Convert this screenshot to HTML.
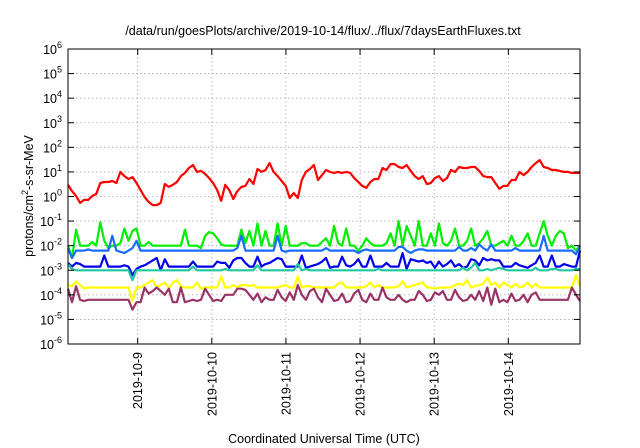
<!DOCTYPE html>
<html><head><meta charset="utf-8"><style>
html,body{margin:0;padding:0;background:#fff;}
svg{display:block;font-family:"Liberation Sans",sans-serif;}
</style></head><body>
<svg id="chart" width="640" height="448" viewBox="0 0 640 448" xmlns="http://www.w3.org/2000/svg">
<rect x="0" y="0" width="640" height="448" fill="#fff"/>
<text x="323" y="35" font-size="12.5" text-anchor="middle" fill="#000">/data/run/goesPlots/archive/2019-10-14/flux/../flux/7daysEarthFluxes.txt</text>
<g id="grid"></g>
<g id="series"></g>
<rect x="68" y="49" width="512" height="295" fill="none" stroke="#000" stroke-width="1"/>
<g id="yticks"></g>
<g id="xticks"></g>
<text transform="translate(33,196) rotate(-90)" font-size="12.5" text-anchor="middle">protons/cm<tspan dy="-5" font-size="9">2</tspan><tspan dy="5">-s-sr-MeV</tspan></text>
<text x="324" y="443" font-size="12.5" text-anchor="middle">Coordinated Universal Time (UTC)</text>
</svg>
<script>
const yTickExps = [-6,-5,-4,-3,-2,-1,0,1,2,3,4,5,6];
const xTickDays = [9,10,11,12,13,14];
const xTickLabels = ["2019-10-9","2019-10-10","2019-10-11","2019-10-12","2019-10-13","2019-10-14"];
const seriesColors = ["#ff0000","#00ee00","#1a6cff","#0000ee","#1fc8a0","#ffff00","#993366"];
const seriesNames = ["flux-red","flux-green","flux-lightblue","flux-blue","flux-teal","flux-yellow","flux-purple"];
const redLog = [0.47,0.22,0.02,-0.26,-0.14,-0.14,0.02,0.1,0.55,0.59,0.59,0.63,0.55,1.0,0.83,0.71,0.79,0.55,0.26,-0.02,-0.22,-0.35,-0.35,-0.26,0.51,0.39,0.47,0.59,0.83,0.96,1.16,1.28,1.0,1.04,0.92,0.75,0.55,0.26,-0.18,0.47,0.26,-0.1,0.22,0.39,0.43,0.71,0.51,1.12,1.0,1.08,1.36,1.0,0.83,0.63,0.43,-0.06,0.14,-0.06,0.67,1.0,1.12,1.28,0.67,0.87,1.08,1.0,0.96,1.0,0.96,1.0,0.96,0.75,0.59,0.43,0.35,0.59,0.71,0.71,1.16,1.08,1.32,1.32,1.2,1.16,1.28,1.04,0.83,0.71,0.83,0.51,0.55,0.75,0.83,0.63,0.75,1.08,1.0,1.2,1.16,1.16,1.2,1.2,1.04,0.83,0.79,0.79,0.55,0.31,0.43,0.43,0.67,0.67,1.0,0.87,1.0,1.2,1.36,1.48,1.2,1.16,1.08,1.08,1.04,1.0,1.0,0.96,0.96,0.96];
const greenLog = [-2.0,-2.5,-1.35,-2.0,-2.0,-2.0,-1.85,-2.0,-1.05,-1.8,-2.1,-2.0,-2.0,-1.9,-1.3,-1.8,-1.4,-1.3,-2.0,-2.0,-1.85,-2.0,-2.0,-2.0,-2.0,-2.0,-2.0,-2.0,-2.0,-1.35,-2.0,-2.0,-2.0,-2.1,-1.6,-1.45,-1.5,-1.7,-1.95,-2.0,-2.0,-2.0,-2.0,-1.35,-1.9,-1.4,-2.0,-1.1,-2.0,-1.4,-2.0,-2.0,-1.1,-2.0,-1.2,-2.0,-2.0,-2.0,-1.9,-1.9,-2.0,-2.0,-2.0,-1.85,-1.7,-2.0,-1.2,-1.9,-2.0,-1.3,-2.0,-2.0,-2.2,-2.0,-1.7,-1.9,-2.0,-2.0,-2.0,-1.9,-1.5,-2.0,-1.0,-2.0,-1.2,-1.6,-2.0,-1.0,-2.0,-2.0,-1.5,-2.0,-1.1,-1.9,-2.0,-1.8,-1.3,-2.0,-2.0,-1.8,-1.3,-2.0,-1.9,-1.7,-1.4,-2.0,-2.0,-1.9,-1.8,-2.0,-1.6,-2.0,-2.0,-1.8,-1.5,-2.0,-2.0,-1.5,-1.0,-1.6,-2.0,-1.6,-1.4,-1.5,-2.1,-2.0,-2.2,-2.0];
const lightBlueLog = [-2.1,-2.5,-2.2,-2.2,-2.2,-2.15,-2.2,-2.2,-2.2,-2.2,-2.2,-1.6,-2.2,-2.25,-2.3,-2.2,-2.1,-1.8,-2.2,-2.2,-2.2,-2.2,-2.2,-2.2,-2.2,-2.2,-2.2,-2.2,-2.2,-2.2,-2.2,-2.2,-2.2,-2.2,-2.2,-2.2,-2.2,-2.2,-2.2,-2.2,-2.2,-2.2,-2.1,-1.6,-2.2,-2.2,-2.2,-2.2,-2.2,-2.2,-2.2,-2.2,-1.6,-2.2,-2.25,-2.2,-2.2,-2.2,-2.2,-2.2,-2.2,-2.2,-2.2,-2.2,-2.1,-2.2,-2.2,-2.2,-2.2,-2.2,-2.2,-2.2,-2.3,-2.2,-2.15,-2.2,-2.2,-2.2,-2.2,-2.2,-2.2,-2.2,-2.05,-2.05,-2.2,-2.3,-2.2,-2.15,-2.15,-2.2,-2.2,-2.2,-2.2,-2.2,-2.2,-2.2,-2.2,-2.05,-2.2,-2.2,-2.1,-2.2,-1.95,-2.1,-2.2,-1.95,-2.2,-2.2,-2.2,-2.2,-2.2,-2.1,-2.2,-2.2,-2.2,-2.2,-2.2,-2.2,-1.6,-2.2,-2.2,-2.2,-2.2,-2.2,-2.2,-2.2,-2.35,-2.0];
const blueLog = [-2.7,-2.85,-2.7,-2.75,-2.85,-2.85,-2.85,-2.85,-2.85,-2.4,-2.85,-2.85,-2.85,-2.85,-2.8,-2.85,-3.2,-2.95,-2.85,-2.8,-2.7,-2.6,-2.5,-3.0,-2.55,-2.85,-2.85,-2.85,-2.85,-2.85,-2.85,-2.65,-2.85,-2.85,-2.85,-2.85,-2.85,-2.65,-2.7,-2.7,-2.9,-2.6,-2.5,-2.5,-2.7,-2.85,-2.85,-2.45,-2.85,-2.75,-2.7,-2.6,-2.5,-2.55,-2.85,-2.85,-2.85,-2.85,-2.4,-2.9,-2.85,-2.8,-2.75,-2.65,-2.5,-2.9,-2.85,-2.85,-2.45,-2.8,-2.85,-2.75,-2.55,-2.85,-2.85,-2.4,-2.85,-2.85,-2.85,-2.7,-2.85,-2.85,-2.85,-2.3,-2.95,-2.55,-2.6,-2.65,-2.6,-2.7,-2.65,-2.9,-2.65,-2.85,-2.75,-2.6,-2.85,-2.75,-2.9,-2.85,-2.55,-2.6,-2.8,-2.5,-2.6,-2.55,-2.6,-2.6,-2.85,-2.85,-2.85,-2.7,-2.8,-2.85,-2.9,-2.8,-2.7,-2.4,-2.85,-2.85,-2.4,-2.85,-2.85,-2.75,-2.8,-2.85,-2.85,-2.2];
const tealLog = [-2.75,-2.95,-3.0,-3.0,-3.0,-3.0,-3.0,-3.0,-3.0,-3.0,-3.0,-3.0,-3.0,-3.0,-3.0,-3.0,-3.4,-3.0,-3.0,-3.0,-3.0,-3.0,-3.0,-3.0,-3.0,-3.0,-3.0,-3.0,-3.0,-3.0,-3.0,-2.85,-3.0,-3.0,-3.0,-3.0,-3.0,-3.0,-3.0,-2.95,-3.0,-3.0,-3.0,-3.0,-3.0,-3.0,-3.0,-2.8,-3.0,-3.0,-3.0,-3.0,-3.0,-3.0,-3.0,-3.0,-3.0,-2.75,-3.0,-2.95,-3.0,-3.0,-3.0,-3.0,-3.0,-3.0,-3.0,-3.0,-3.0,-3.0,-3.0,-3.0,-3.0,-3.0,-3.0,-3.0,-3.0,-2.95,-3.0,-3.0,-3.0,-3.0,-3.0,-3.0,-3.0,-3.0,-3.0,-3.0,-3.0,-3.0,-3.0,-3.0,-3.0,-3.0,-3.0,-3.0,-3.0,-3.0,-2.9,-3.0,-2.9,-2.7,-3.0,-3.0,-2.95,-3.0,-2.95,-2.9,-2.95,-3.0,-3.0,-3.0,-3.0,-3.0,-3.0,-3.0,-2.9,-3.0,-3.0,-3.0,-2.95,-2.95,-3.0,-3.0,-3.0,-3.0,-2.95,-2.95];
const yellowLog = [-3.6,-3.65,-3.45,-3.6,-3.75,-3.7,-3.7,-3.7,-3.7,-3.7,-3.7,-3.7,-3.7,-3.7,-3.7,-3.7,-4.25,-3.7,-3.7,-3.6,-3.5,-3.4,-3.7,-3.6,-3.5,-3.75,-3.5,-3.4,-3.65,-3.7,-3.7,-3.7,-3.5,-3.75,-3.7,-3.7,-3.7,-3.7,-3.25,-3.7,-3.7,-3.6,-3.7,-3.6,-3.6,-3.65,-3.6,-3.7,-3.7,-3.7,-3.7,-3.7,-3.7,-3.65,-3.6,-3.7,-3.7,-3.25,-3.7,-3.65,-3.65,-3.7,-3.7,-3.7,-3.7,-3.7,-3.7,-3.55,-3.5,-3.7,-3.7,-3.7,-3.7,-3.7,-3.65,-3.5,-3.7,-3.6,-3.7,-3.7,-3.7,-3.7,-3.65,-3.45,-3.7,-3.65,-3.6,-3.55,-3.5,-3.7,-3.7,-3.75,-3.7,-3.7,-3.7,-3.7,-3.6,-3.55,-3.6,-3.4,-3.7,-3.65,-3.6,-3.55,-3.3,-3.6,-3.5,-3.7,-3.5,-3.6,-3.7,-3.55,-3.7,-3.65,-3.5,-3.7,-3.55,-3.7,-3.7,-3.7,-3.7,-3.7,-3.7,-3.7,-3.7,-3.7,-3.2,-3.65];
const purpleLog = [-3.75,-4.3,-3.65,-4.2,-4.25,-4.2,-4.2,-4.2,-4.2,-4.2,-4.2,-4.2,-4.2,-4.2,-4.2,-4.2,-4.6,-4.3,-4.3,-3.7,-3.95,-3.85,-3.7,-3.85,-4.0,-3.75,-4.3,-4.3,-3.7,-4.3,-4.25,-4.2,-4.25,-4.2,-3.75,-4.0,-4.25,-4.2,-4.25,-4.0,-4.0,-4.0,-3.75,-3.75,-3.8,-4.0,-4.2,-3.95,-4.3,-4.1,-4.2,-4.2,-3.8,-4.1,-4.25,-3.9,-4.2,-3.6,-4.0,-4.2,-3.85,-3.75,-4.1,-4.3,-3.75,-4.0,-4.25,-4.2,-3.95,-4.3,-4.25,-3.95,-3.8,-4.2,-4.3,-3.95,-4.2,-4.2,-3.7,-4.1,-4.2,-4.2,-4.0,-4.2,-4.3,-4.2,-4.2,-3.85,-4.0,-4.25,-4.2,-3.9,-4.0,-3.85,-4.2,-4.2,-3.8,-4.1,-4.25,-4.2,-4.0,-4.2,-3.85,-4.25,-3.7,-4.4,-3.75,-4.3,-4.2,-4.3,-3.95,-4.25,-4.2,-4.0,-4.3,-4.0,-3.9,-4.2,-4.2,-4.2,-4.2,-4.2,-4.2,-4.2,-4.2,-3.7,-4.0,-4.25];
const allSeries = [redLog,greenLog,lightBlueLog,blueLog,tealLog,yellowLog,purpleLog];
const timeStart = 8.06, timeEnd = 14.967;

const NS = "http://www.w3.org/2000/svg";
const PL=68, PR=580, PT=49, PB=344;
function xScale(day){ return PL + (day-timeStart)/(timeEnd-timeStart)*(PR-PL); }
function yScale(lg){ return PB - (lg+6)/12*(PB-PT); }
function mk(tag, attrs, parent){ const e=document.createElementNS(NS,tag); for(const k in attrs) e.setAttribute(k,attrs[k]); parent.appendChild(e); return e; }

const grid=document.getElementById('grid'), yt=document.getElementById('yticks'), xt=document.getElementById('xticks'), sg=document.getElementById('series');

yTickExps.forEach(function(ex){
  const y=yScale(ex);
  if(ex>-6 && ex<6){
    const g=mk('line',{x1:PL,x2:PR,y1:y,y2:y,stroke:'#aaa','stroke-width':0.8,'stroke-dasharray':'1.5,2.5'},grid);
    
    
  }
  const t1=mk('line',{x1:PL,x2:PL+6,y1:y,y2:y,stroke:'#000'},yt);
  
  
  const t2=mk('line',{x1:PR-6,x2:PR,y1:y,y2:y,stroke:'#000'},yt);
  
  
  const tx=mk('text',{x:PL-6,y:y+5,'font-size':'12.5','text-anchor':'end'},yt);
  
  
  tx.appendChild(document.createTextNode('10'));
  const sup=mk('tspan',{dy:'-6','font-size':'9'},tx);
  sup.textContent=String(ex);
});

xTickDays.forEach(function(d,i){
  const x=xScale(d);
  const g=mk('line',{x1:x,x2:x,y1:PT,y2:PB,stroke:'#aaa','stroke-width':0.8,'stroke-dasharray':'1.5,2.5'},grid);
  
  
  const t1=mk('line',{x1:x,x2:x,y1:PB-6,y2:PB,stroke:'#000'},xt);
  
  
  const t2=mk('line',{x1:x,x2:x,y1:PT,y2:PT+6,stroke:'#000'},xt);
  
  
  const tx=mk('text',{transform:'translate('+(x+4.5)+','+(PB+8)+') rotate(-90)','font-size':'12.5','text-anchor':'end'},xt);
  
  
  tx.textContent=xTickLabels[i];
});

allSeries.forEach(function(arr,si){
  const n=arr.length;
  const pts=arr.map(function(v,i){ const day=timeStart+i*(timeEnd-timeStart)/(n-1); return xScale(day).toFixed(1)+','+yScale(v).toFixed(1); }).join(' ');
  const p=mk('polyline',{points:pts,fill:'none',stroke:seriesColors[si],'stroke-width':2.2,'stroke-linejoin':'round'},sg);
  
  
});
</script>
</body></html>
